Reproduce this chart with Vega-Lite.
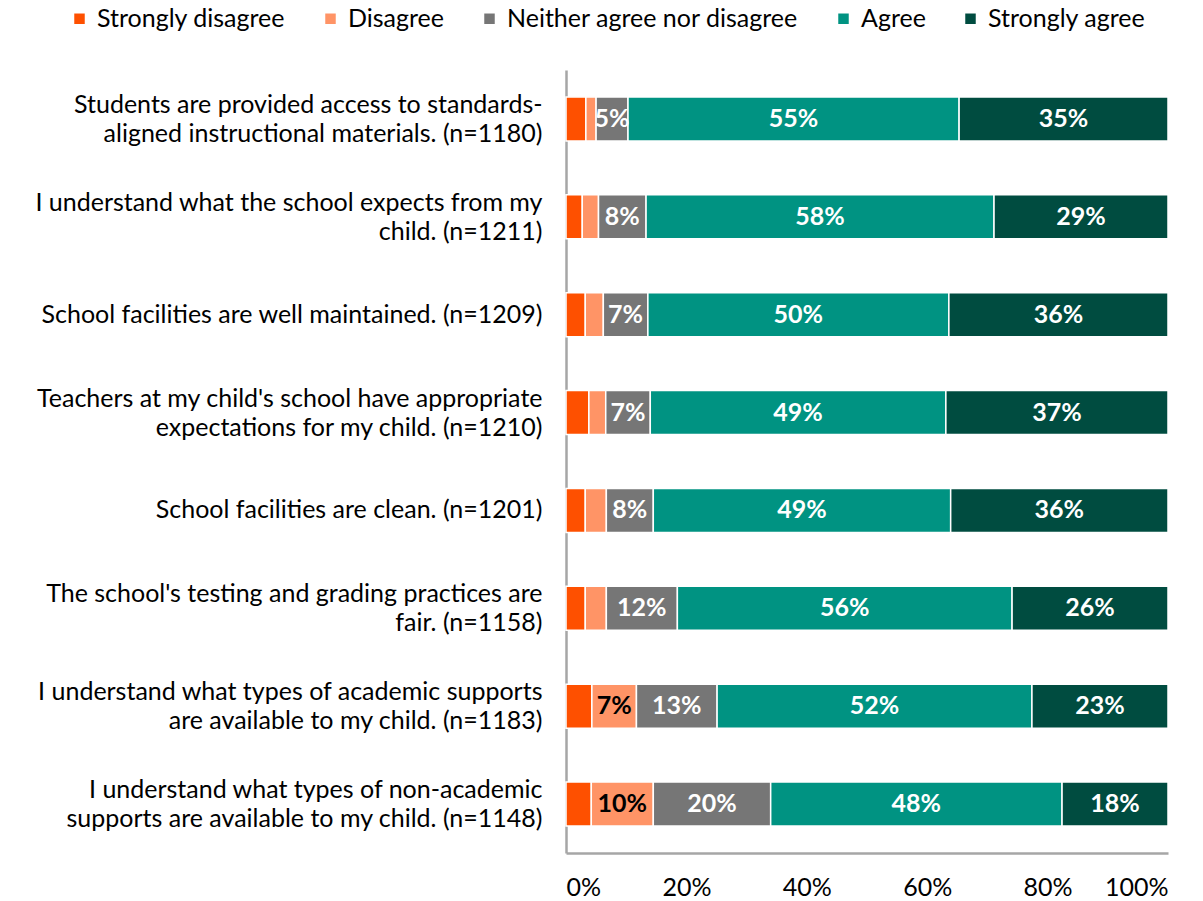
{
  "$schema": "https://vega.github.io/schema/vega-lite/v6.json",
  "width": 602,
  "height": 783,
  "autosize": "none",
  "padding": {"left": 566, "top": 70, "right": 35, "bottom": 48},
  "background": "white",
  "config": {"view": {"stroke": null}, "font": "Lato"},
  "data": {"values": [
    {"q": "Students are provided access to standards-|aligned instructional materials. (n=1180)", "qi": 1, "cat": "Strongly disagree", "ci": 1, "value": 3.3},
    {"q": "Students are provided access to standards-|aligned instructional materials. (n=1180)", "qi": 1, "cat": "Disagree", "ci": 2, "value": 1.7},
    {"q": "Students are provided access to standards-|aligned instructional materials. (n=1180)", "qi": 1, "cat": "Neither agree nor disagree", "ci": 3, "value": 5.3},
    {"q": "Students are provided access to standards-|aligned instructional materials. (n=1180)", "qi": 1, "cat": "Agree", "ci": 4, "value": 55.0},
    {"q": "Students are provided access to standards-|aligned instructional materials. (n=1180)", "qi": 1, "cat": "Strongly agree", "ci": 5, "value": 34.7},
    {"q": "I understand what the school expects from my|child. (n=1211)", "qi": 2, "cat": "Strongly disagree", "ci": 1, "value": 2.7},
    {"q": "I understand what the school expects from my|child. (n=1211)", "qi": 2, "cat": "Disagree", "ci": 2, "value": 2.7},
    {"q": "I understand what the school expects from my|child. (n=1211)", "qi": 2, "cat": "Neither agree nor disagree", "ci": 3, "value": 7.9},
    {"q": "I understand what the school expects from my|child. (n=1211)", "qi": 2, "cat": "Agree", "ci": 4, "value": 57.8},
    {"q": "I understand what the school expects from my|child. (n=1211)", "qi": 2, "cat": "Strongly agree", "ci": 5, "value": 28.9},
    {"q": "School facilities are well maintained. (n=1209)", "qi": 3, "cat": "Strongly disagree", "ci": 1, "value": 3.2},
    {"q": "School facilities are well maintained. (n=1209)", "qi": 3, "cat": "Disagree", "ci": 2, "value": 3.0},
    {"q": "School facilities are well maintained. (n=1209)", "qi": 3, "cat": "Neither agree nor disagree", "ci": 3, "value": 7.4},
    {"q": "School facilities are well maintained. (n=1209)", "qi": 3, "cat": "Agree", "ci": 4, "value": 50.0},
    {"q": "School facilities are well maintained. (n=1209)", "qi": 3, "cat": "Strongly agree", "ci": 5, "value": 36.4},
    {"q": "Teachers at my child's school have appropriate|expectations for my child. (n=1210)", "qi": 4, "cat": "Strongly disagree", "ci": 1, "value": 3.8},
    {"q": "Teachers at my child's school have appropriate|expectations for my child. (n=1210)", "qi": 4, "cat": "Disagree", "ci": 2, "value": 2.8},
    {"q": "Teachers at my child's school have appropriate|expectations for my child. (n=1210)", "qi": 4, "cat": "Neither agree nor disagree", "ci": 3, "value": 7.4},
    {"q": "Teachers at my child's school have appropriate|expectations for my child. (n=1210)", "qi": 4, "cat": "Agree", "ci": 4, "value": 49.1},
    {"q": "Teachers at my child's school have appropriate|expectations for my child. (n=1210)", "qi": 4, "cat": "Strongly agree", "ci": 5, "value": 36.9},
    {"q": "School facilities are clean. (n=1201)", "qi": 5, "cat": "Strongly disagree", "ci": 1, "value": 3.2},
    {"q": "School facilities are clean. (n=1201)", "qi": 5, "cat": "Disagree", "ci": 2, "value": 3.5},
    {"q": "School facilities are clean. (n=1201)", "qi": 5, "cat": "Neither agree nor disagree", "ci": 3, "value": 7.8},
    {"q": "School facilities are clean. (n=1201)", "qi": 5, "cat": "Agree", "ci": 4, "value": 49.4},
    {"q": "School facilities are clean. (n=1201)", "qi": 5, "cat": "Strongly agree", "ci": 5, "value": 36.1},
    {"q": "The school's testing and grading practices are|fair. (n=1158)", "qi": 6, "cat": "Strongly disagree", "ci": 1, "value": 3.2},
    {"q": "The school's testing and grading practices are|fair. (n=1158)", "qi": 6, "cat": "Disagree", "ci": 2, "value": 3.5},
    {"q": "The school's testing and grading practices are|fair. (n=1158)", "qi": 6, "cat": "Neither agree nor disagree", "ci": 3, "value": 11.8},
    {"q": "The school's testing and grading practices are|fair. (n=1158)", "qi": 6, "cat": "Agree", "ci": 4, "value": 55.6},
    {"q": "The school's testing and grading practices are|fair. (n=1158)", "qi": 6, "cat": "Strongly agree", "ci": 5, "value": 25.9},
    {"q": "I understand what types of academic supports|are available to my child. (n=1183)", "qi": 7, "cat": "Strongly disagree", "ci": 1, "value": 4.3},
    {"q": "I understand what types of academic supports|are available to my child. (n=1183)", "qi": 7, "cat": "Disagree", "ci": 2, "value": 7.4},
    {"q": "I understand what types of academic supports|are available to my child. (n=1183)", "qi": 7, "cat": "Neither agree nor disagree", "ci": 3, "value": 13.4},
    {"q": "I understand what types of academic supports|are available to my child. (n=1183)", "qi": 7, "cat": "Agree", "ci": 4, "value": 52.3},
    {"q": "I understand what types of academic supports|are available to my child. (n=1183)", "qi": 7, "cat": "Strongly agree", "ci": 5, "value": 22.6},
    {"q": "I understand what types of non-academic|supports are available to my child. (n=1148)", "qi": 8, "cat": "Strongly disagree", "ci": 1, "value": 4.2},
    {"q": "I understand what types of non-academic|supports are available to my child. (n=1148)", "qi": 8, "cat": "Disagree", "ci": 2, "value": 10.3},
    {"q": "I understand what types of non-academic|supports are available to my child. (n=1148)", "qi": 8, "cat": "Neither agree nor disagree", "ci": 3, "value": 19.5},
    {"q": "I understand what types of non-academic|supports are available to my child. (n=1148)", "qi": 8, "cat": "Agree", "ci": 4, "value": 48.4},
    {"q": "I understand what types of non-academic|supports are available to my child. (n=1148)", "qi": 8, "cat": "Strongly agree", "ci": 5, "value": 17.6}
  ]},
  "transform": [
    {"stack": "value", "groupby": ["q"], "sort": [{"field": "ci", "order": "ascending"}], "offset": "normalize", "as": ["x0", "x1"]},
    {"calculate": "(datum.x0 + datum.x1) / 2", "as": "xm"},
    {"calculate": "format(datum.value, '.0f') + '%'", "as": "lab"}
  ],
  "encoding": {
    "y": {
      "field": "q", "type": "nominal",
      "sort": {"field": "qi", "op": "min", "order": "ascending"},
      "scale": {"paddingInner": 0.55, "paddingOuter": 0.275},
      "axis": {
        "title": null, "labelExpr": "split(datum.label, '|')",
        "labelFont": "Lato", "labelFontSize": 25, "labelColor": "#000000",
        "labelLineHeight": 29, "labelPadding": 24, "labelLimit": 700,
        "labelOffset": {"condition": {"test": "indexof(datum.value, '|') >= 0", "value": -14}, "value": 0},
        "ticks": false, "domainColor": "#A6A6A6", "domainWidth": 2.5
      }
    }
  },
  "layer": [
    {
      "mark": {"type": "bar", "stroke": "white", "strokeWidth": 1.5},
      "encoding": {
        "x": {"field": "x0", "type": "quantitative", "scale": {"domain": [0, 1]},
          "axis": {"title": null, "format": ".0%", "values": [0, 0.2, 0.4, 0.6, 0.8, 1], "grid": false, "ticks": false,
            "labelFont": "Lato", "labelFontSize": 25, "labelColor": "#000000", "labelPadding": 22,
            "domainColor": "#A6A6A6", "domainWidth": 2.5}},
        "x2": {"field": "x1"},
        "color": {
          "field": "cat", "type": "nominal",
          "sort": ["Strongly disagree", "Disagree", "Neither agree nor disagree", "Agree", "Strongly agree"],
          "scale": {"domain": ["Strongly disagree", "Disagree", "Neither agree nor disagree", "Agree", "Strongly agree"],
            "range": ["#FE5000", "#FF9466", "#767676", "#009382", "#004C40"]},
          "legend": {
            "title": null, "orient": "none", "direction": "horizontal",
            "legendX": -499, "legendY": -64,
            "symbolType": "square", "symbolSize": 110, "symbolStrokeWidth": 0,
            "labelFont": "Lato", "labelFontSize": 25, "labelColor": "#000000", "labelLimit": 600,
            "columnPadding": 32, "labelOffset": 5
          }
        }
      }
    },
    {
      "transform": [{"filter": "datum.value >= 4.5"}],
      "mark": {"type": "text", "font": "Lato", "fontSize": 25, "fontWeight": "bold", "baseline": "middle", "align": "center"},
      "encoding": {
        "x": {"field": "xm", "type": "quantitative"},
        "text": {"field": "lab"},
        "color": {"condition": {"test": "datum.cat === 'Disagree'", "value": "#000000"}, "value": "#FFFFFF"}
      }
    }
  ]
}
